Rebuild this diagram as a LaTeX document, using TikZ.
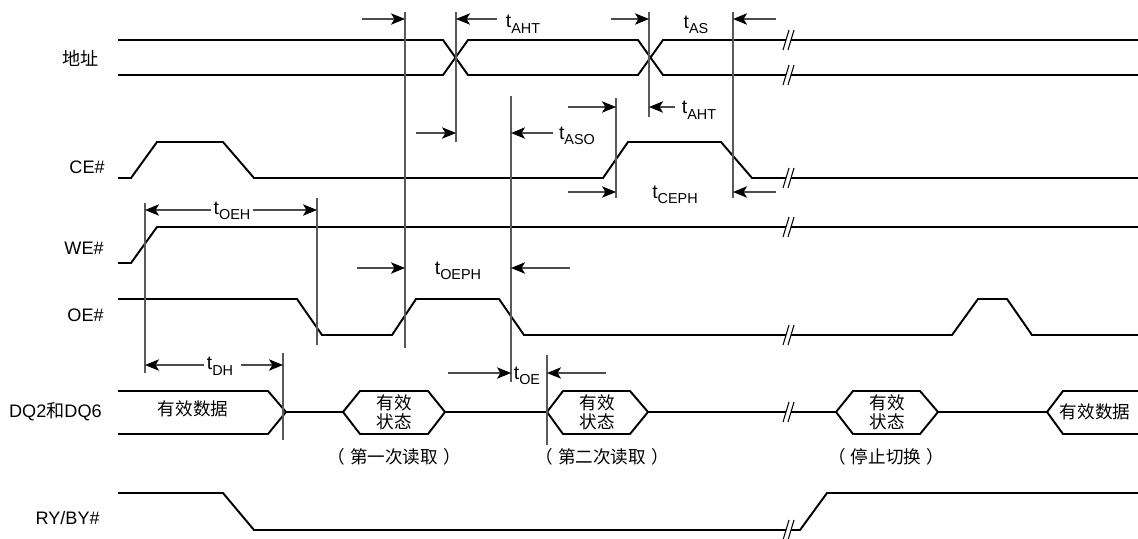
\documentclass[tikz,border=0pt]{standalone}
\usepackage{fontspec}
\setmainfont{Liberation Sans}
\newfontfamily\cjk{Noto Sans CJK SC}
\usetikzlibrary{arrows.meta}

\newcommand{\tsub}[1]{t\raisebox{-0.55ex}{\fontsize{8.2}{9}\selectfont #1}}

\begin{document}
\begin{tikzpicture}[x=0.02cm, y=-0.02cm,
    sig/.style={line width=1.1pt, line join=miter},
    vline/.style={line width=0.6pt, black!65},
    dimarrow/.style={line width=0.6pt, black!70, -{Stealth[length=8pt, width=6.5pt, inset=2pt, black]}},
    lbl/.style={anchor=east, inner sep=0pt, font=\fontsize{10.3}{12}\selectfont},
    tm/.style={inner sep=1.5pt, font=\fontsize{11}{12}\selectfont},
    cn/.style={inner sep=0pt, align=center, font=\cjk\fontsize{10}{10.8}\selectfont}]
    \useasboundingbox (0,0) rectangle (1138,538);

    % Signal names
    \node[lbl] (addr) at (99,58) {\cjk 地址};
    \node[lbl] (ce) at (105,167) {CE\#};
    \node[lbl] (we) at (104,248) {WE\#};
    \node[lbl] (oe) at (104,315) {OE\#};
    \node[lbl] (dq) at (102,412) {DQ2{\cjk 和}DQ6};
    \node[lbl] (ry) at (100,518) {RY/BY\#};

    % Address
    \draw[sig] (118,40) -- (443,40) -- (468,75) -- (638,75) -- (663,40) -- (1138,40);
    \draw[sig] (118,75) -- (443,75) -- (468,40) -- (638,40) -- (663,75) -- (1138,75);

    % CE#
    \draw[sig] (118,178) -- (131,178) -- (157,142) -- (223,142) -- (254,178) -- (603,178)
        -- (628,142) -- (721,142) -- (752,178) -- (1138,178);

    % WE#
    \draw[sig] (118,263) -- (131,263) -- (157,227) -- (1138,227);

    % OE#
    \draw[sig] (118,299) -- (297,299) -- (322,335) -- (392,335) -- (416,299) -- (499,299)
        -- (524,335) -- (952,335) -- (978,299) -- (1007,299) -- (1032,335) -- (1138,335);

    % DQ2 and DQ6
    \draw[sig] (118,391) -- (268,391) -- (286,412) -- (268,434) -- (118,434);
    \draw[sig] (286,412) -- (343,412);
    \draw[sig] (343,412) -- (360,391) -- (428,391) -- (445,412) -- (428,434) -- (360,434) -- cycle;
    \draw[sig] (445,412) -- (547,412);
    \draw[sig] (547,412) -- (563,391) -- (630,391) -- (648,412) -- (630,434) -- (563,434) -- cycle;
    \draw[sig] (648,412) -- (836,412);
    \draw[sig] (836,412) -- (853,391) -- (920,391) -- (938,412) -- (920,434) -- (853,434) -- cycle;
    \draw[sig] (938,412) -- (1047,412);
    \draw[sig] (1138,391) -- (1063,391) -- (1047,412) -- (1063,434) -- (1138,434);

    \node[cn] (data1) at (193,409) {有效数据};
    \node[cn] (state1) at (394,412) {有效\\状态};
    \node[cn] (state2) at (597,412) {有效\\状态};
    \node[cn] (state3) at (887,412) {有效\\状态};
    \node[cn] (data2) at (1095,412) {有效数据};

    \node[cn] (read1) at (394,457) {（\hspace{3pt}第一次读取\hspace{3pt}）};
    \node[cn] (read2) at (602,457) {（\hspace{3pt}第二次读取\hspace{3pt}）};
    \node[cn] (halt) at (886,457) {（\hspace{3pt}停止切换\hspace{3pt}）};

    % RY/BY#
    \draw[sig] (118,493) -- (223,493) -- (254,530) -- (800,530) -- (827,493) -- (1138,493);

    % Breaks
    \foreach \y in {40,75,178,227,335,412,530} {
        \fill[white] (783,\y+10) -- (789,\y-10) -- (794,\y-10) -- (788,\y+10) -- cycle;
        \draw[line width=0.6pt] (783,\y+10) -- (789,\y-10) (788,\y+10) -- (794,\y-10);
    }

    % Timing marks
    \draw[vline] (405,12) -- (405,348);
    \draw[vline] (456,12) -- (456,142);
    \draw[vline] (511,96) -- (511,382);
    \draw[vline] (616,98) -- (616,198);
    \draw[vline] (649,12) -- (649,117);
    \draw[vline] (733,12) -- (733,198);
    \draw[vline] (145,203) -- (145,373);
    \draw[vline] (317,198) -- (317,345);
    \draw[vline] (283,353) -- (283,440);
    \draw[vline] (547,355) -- (547,445);

    % Timing arrows
    \draw[dimarrow] (362,19) -- (405,19);
    \draw[dimarrow] (497,19) -- (456,19);
    \draw[dimarrow] (611,19) -- (649,19);
    \draw[dimarrow] (776,19) -- (733,19);
    \draw[dimarrow] (568,107) -- (616,107);
    \draw[dimarrow] (675,107) -- (649,107);
    \draw[dimarrow] (416,133) -- (456,133);
    \draw[dimarrow] (553,133) -- (511,133);
    \draw[dimarrow] (568,192) -- (616,192);
    \draw[dimarrow] (776,192) -- (733,192);
    \draw[dimarrow] (357,268) -- (405,268);
    \draw[dimarrow] (570,268) -- (511,268);
    \draw[dimarrow] (448,373) -- (511,373);
    \draw[dimarrow] (606,373) -- (547,373);

    \node[tm] (tAHTa) at (523,24) {\tsub{AHT}};
    \node[tm] (tAS) at (696,25) {\tsub{AS}};
    \node[tm] (tAHTb) at (699,110) {\tsub{AHT}};
    \node[tm] (tASO) at (577,136) {\tsub{ASO}};
    \node[tm] (tCEPH) at (675,195) {\tsub{CEPH}};
    \node[tm] (tOEPH) at (458,271) {\tsub{OEPH}};
    \node[tm] (tOE) at (527,376) {\tsub{OE}};

    \node[tm] (tOEH) at (232,211) {\tsub{OEH}};
    \draw[dimarrow] (tOEH.west |- 0,210) -- (145,210);
    \draw[dimarrow] (tOEH.east |- 0,210) -- (317,210);
    \node[tm] (tDH) at (220,366) {\tsub{DH}};
    \draw[dimarrow] (tDH.west |- 0,365) -- (145,365);
    \draw[dimarrow] ([xshift=3pt]tDH.east |- 0,365) -- (283,365);
\end{tikzpicture}
\end{document}
